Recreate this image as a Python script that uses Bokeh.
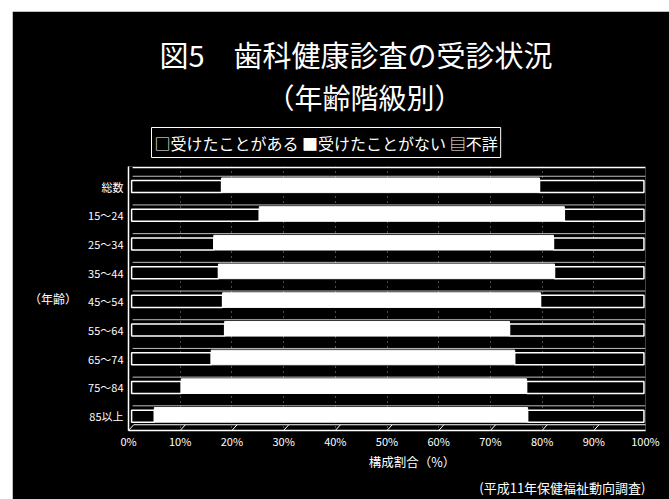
from bokeh.plotting import figure
from bokeh.models import Range1d, FixedTicker, Title
from bokeh.embed import file_html
from bokeh.resources import INLINE
import numpy as np

categories = ["総数", "15～24", "25～34", "35～44", "45～54", "55～64", "65～74", "75～84", "85以上"]
received = [18.0, 25.3, 16.5, 17.4, 18.2, 18.6, 16.0, 10.2, 5.0]
never = [61.5, 59.0, 65.7, 65.0, 61.5, 55.1, 58.7, 66.8, 72.2]
unknown = [20.5, 15.7, 17.8, 17.6, 20.3, 26.3, 25.3, 23.0, 22.8]
x_ticks = [0, 10, 20, 30, 40, 50, 60, 70, 80, 90, 100]
x_tick_labels = ["0%", "10%", "20%", "30%", "40%", "50%", "60%", "70%", "80%", "90%", "100%"]

FONT = "Noto Sans CJK JP"

rows = np.arange(len(categories))
r = np.array(received)
n = np.array(never)
u = np.array(unknown)

p = figure(width=657, height=488, x_range=Range1d(0, 100), y_range=Range1d(8.5, -0.7),
           output_backend="svg", toolbar_location=None,
           min_border_left=116, min_border_right=24, min_border_top=155, min_border_bottom=69,
           background_fill_color="black", border_fill_color="black", outline_line_color=None)
p.margin = (11, 0, 0, 12)

# grid
p.ygrid.grid_line_color = None
p.xgrid.ticker = FixedTicker(ticks=x_ticks[1:])
p.xgrid.grid_line_color = "white"
p.xgrid.grid_line_alpha = 0.6
p.xgrid.grid_line_dash = "1 4"

# 3D back top line and top faces
p.segment(x0=[0.8], y0=[-0.66], x1=[100], y1=[-0.66], line_color="white", line_width=1.2)
p.segment(x0=np.full(len(rows), 0.8), y0=rows - 0.36, x1=np.full(len(rows), 100.0), y1=rows - 0.36,
          line_color="white", line_width=1, line_alpha=0.75)

# bars
p.quad(left=np.full(len(rows), 0.6), right=r, top=rows - 0.21, bottom=rows + 0.21, fill_color="black",
       line_color="white", line_width=1.5)
p.quad(left=r, right=r + n, top=rows - 0.3, bottom=rows + 0.21, fill_color="white",
       line_color="white", line_width=1)
p.quad(left=r + n, right=r + n + u - 0.3, top=rows - 0.21, bottom=rows + 0.21, fill_color="black",
       line_color="white", line_width=1.5)

# floor
p.segment(x0=[1.0], y0=[8.3], x1=[100.5], y1=[8.3], line_color="white", line_width=1)
xt = np.array(x_ticks, dtype=float)
p.segment(x0=xt, y0=np.full(len(xt), 8.5), x1=xt + 1.0, y1=np.full(len(xt), 8.3),
          line_color="white", line_width=1)

# axes
p.xaxis.ticker = FixedTicker(ticks=x_ticks)
p.xaxis.major_label_overrides = {t: l for t, l in zip(x_ticks, x_tick_labels)}
p.yaxis.ticker = FixedTicker(ticks=list(rows))
p.yaxis.major_label_overrides = {int(i): c for i, c in zip(rows, categories)}
for ax in (p.xaxis, p.yaxis):
    ax.axis_line_color = "white"
    ax.axis_line_width = 1.5
    ax.major_tick_line_color = None
    ax.minor_tick_line_color = None
    ax.major_tick_out = 0
    ax.major_tick_in = 0
    ax.minor_tick_out = 0
    ax.major_label_text_color = "white"
    ax.major_label_text_font = FONT
    ax.major_label_text_font_size = "11px"
    ax.axis_label_text_color = "white"
    ax.axis_label_text_font = FONT
    ax.axis_label_text_font_style = "normal"
p.xaxis.major_label_standoff = 2
p.yaxis.major_label_standoff = 5

xax = p.xaxis[0]
xax.axis_label = "　　　　構成割合（%）"
xax.axis_label_text_font_size = "12.5px"
xax.axis_label_standoff = 0

yax = p.yaxis[0]
yax.axis_label = "（年齢）"
yax.axis_label_text_font_size = "12px"
yax.axis_label_standoff = 8
if "axis_label_orientation" in yax.properties():
    yax.axis_label_orientation = "horizontal"

TP = Title.properties()

def title(text, size, side="above", align="center", offset=0, border=False, standoff=None):
    kw = dict(text=text, text_color="white", text_font=FONT, text_font_size=size,
              align=align, offset=offset, text_font_style="normal")
    if border:
        kw["border_line_color"] = "white"
        if "padding" in TP:
            kw["padding"] = 3
    t = Title(**kw)
    if standoff is not None and "standoff" in TP:
        t.standoff = max(standoff, 0)
    p.add_layout(t, side)

title("□受けたことがある ■受けたことがない ▤不詳", "16px", align="left", offset=23, border=True, standoff=18)
title("（年齢階級別）", "28px", align="left", offset=138, standoff=0)
title("図5　歯科健康診査の受診状況", "29px", align="left", offset=31, standoff=0)

title("(平成11年保健福祉動向調査)", "13px", side="below", align="right", offset=0, standoff=4)

open("out.html", "w").write(file_html(p, INLINE))
